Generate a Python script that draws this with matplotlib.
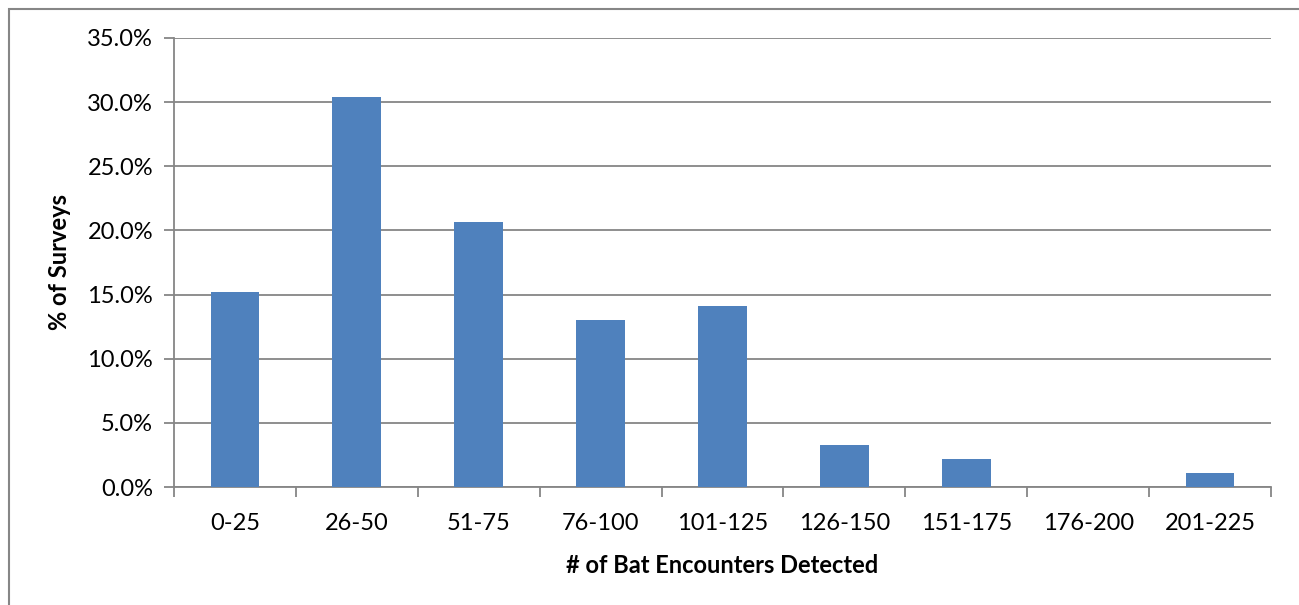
import matplotlib.pyplot as plt
import numpy as np
from matplotlib.patches import Rectangle
from matplotlib.ticker import PercentFormatter

categories = [
    "0-25",
    "26-50",
    "51-75",
    "76-100",
    "101-125",
    "126-150",
    "151-175",
    "176-200",
    "201-225",
]
percent_surveys = [15.2, 30.4, 20.65, 13.04, 14.13, 3.26, 2.17, 0.0, 1.09]

plt.rcParams["font.family"] = ["Lato", "DejaVu Sans"]

fig = plt.figure(figsize=(12.99, 6.05), dpi=100)
ax = fig.add_axes([174 / 1299, 1 - 487 / 605, 1097 / 1299, 449 / 605])

# Outer chart border (only left and top edges are visible)
fig.patches.append(
    Rectangle(
        (9 / 1299, -0.1),
        1.2,
        1.1 - 9 / 605,
        transform=fig.transFigure,
        fill=False,
        edgecolor="#868686",
        lw=1.5,
        zorder=0,
    )
)

x = np.arange(len(categories))
ax.bar(x, percent_surveys, width=0.4, color="#4F81BD", zorder=3)

ax.set_xlim(-0.5, len(categories) - 0.5)
ax.set_ylim(0, 35)
ax.set_yticks(np.arange(0, 36, 5))
ax.yaxis.set_major_formatter(PercentFormatter(decimals=1))
ax.grid(axis="y", color="#868686", lw=1.3, zorder=0)

ax.set_xticks(x)
ax.set_xticklabels(categories)
ax.set_xticks(np.arange(-0.5, len(categories)), minor=True)
ax.tick_params(axis="x", which="major", length=0, pad=19, labelsize=17)
ax.tick_params(axis="x", which="minor", length=7, width=1.3, color="#868686")
ax.tick_params(axis="y", length=7, width=1.3, color="#868686", pad=8, labelsize=17)

for side in ["top", "right"]:
    ax.spines[side].set_visible(False)
for side in ["left", "bottom"]:
    ax.spines[side].set_color("#868686")
    ax.spines[side].set_linewidth(1.3)

ax.set_xlabel("# of Bat Encounters Detected", fontsize=17, fontweight="bold", labelpad=14)
ax.set_ylabel("% of Surveys", fontsize=17, fontweight="bold", labelpad=12)

fig.savefig("out.png", dpi=100)
